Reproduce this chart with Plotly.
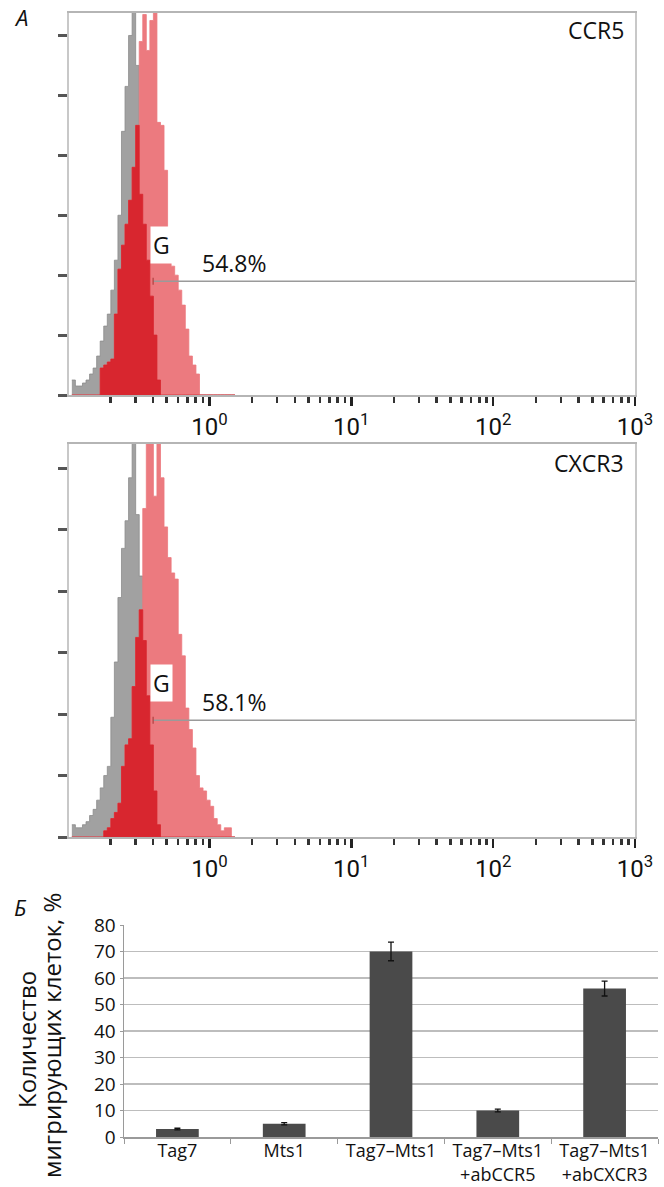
import numpy as np
import plotly.graph_objects as go

# ---------------- data ----------------
# histogram bins (log10 of fluorescence), first bin left edge and width
BIN_START = -0.97
BIN_WIDTH = 0.025

# Panel A, CCR5: isotype control (grey) and stained cells (red)
CCR5_CONTROL = [5, 3, 3, 4, 5, 7, 9, 13, 18, 23, 27, 35, 45, 60, 88, 103, 120, 130, 110, 67,
                57, 45, 33, 20, 5, 0, 0, 0, 0, 0, 0, 0, 0, 0, 0, 0, 0, 0, 0, 0,
                0, 0, 0, 0, 0, 0]
CCR5_STAINED = [0, 0, 0, 0, 0, 0, 0, 0, 9, 10, 11, 12, 27, 42, 50, 57, 65, 76, 90, 118,
                127, 115, 125, 130, 91, 90, 75, 53, 43, 40, 35, 30, 22, 13, 10, 7, 0, 0, 0, 0,
                0, 0, 0, 0, 0, 0]
CCR5_GATE = "54.8%"

# Panel A, CXCR3
CXCR3_CONTROL = [4, 3, 3, 4, 5, 7, 9, 12, 16, 20, 23, 39, 57, 78, 94, 103, 117, 130, 105, 85,
                 64, 46, 30, 15, 4, 0, 0, 0, 0, 0, 0, 0, 0, 0, 0, 0, 0, 0, 0, 0,
                 0, 0, 0, 0, 0, 0]
CXCR3_STAINED = [0, 0, 0, 0, 0, 0, 0, 0, 0, 2, 3, 6, 8, 11, 23, 30, 32, 49, 65, 74,
                 107, 130, 130, 111, 130, 117, 101, 91, 86, 84, 66, 59, 42, 35, 29, 20, 16, 15, 12, 10,
                 6, 4, 2, 3, 3, 0]
CXCR3_GATE = "58.1%"

X_TICK_VALUES = [1, 10, 100, 1000]
X_TICK_TEXT = ["10<sup>0</sup>", "10<sup>1</sup>", "10<sup>2</sup>", "10<sup>3</sup>"]

# Panel B: migrating cells, %
CATEGORIES = ["Tag7", "Mts1", "Tag7–Mts1", "Tag7–Mts1<br>+abCCR5", "Tag7–Mts1<br>+abCXCR3"]
MIGRATION = [3, 5, 70, 10, 56]
MIGRATION_ERR = [0.3, 0.4, 3.5, 0.5, 2.8]
Y_TITLE_LINES = ["Количество", "мигрирующих клеток, %"]

# ---------------- styling ----------------
FONT = "Open Sans, Lato, Arial, sans-serif"
NARROW = "Liberation Sans Narrow, Arial Narrow, Roboto, sans-serif"
GREY = "#a1a1a1"
PINK = "#ec7a7f"
DARK_RED = "#d8262f"

W, H = 664, 1187


def py(pix):
    return 1 - pix / H


def px(pix):
    return pix / W


fig = go.Figure()

edges = BIN_START + BIN_WIDTH * np.arange(len(CCR5_CONTROL) + 1)
x_edges = 10 ** edges


def add_hist(control, stained, xa, ya):
    control = np.asarray(control, dtype=float)
    stained = np.asarray(stained, dtype=float)
    overlap = np.minimum(control, stained)
    for vals, col, lc in ((control, GREY, "#8c8c8c"), (stained, PINK, PINK), (overlap, DARK_RED, DARK_RED)):
        yv = np.append(vals, vals[-1])
        fig.add_trace(go.Scatter(
            x=x_edges, y=yv, mode="lines", line=dict(shape="hv", width=0.8, color=lc),
            fill="tozeroy", fillcolor=col, xaxis=xa, yaxis=ya, showlegend=False,
            hoverinfo="skip"))


add_hist(CCR5_CONTROL, CCR5_STAINED, "x", "y")
add_hist(CXCR3_CONTROL, CXCR3_STAINED, "x2", "y2")

GATE_START = 10 ** -0.397
GATE_END = 10 ** 3.0
GATE_LEVEL = 38
for xa, ya in (("x", "y"), ("x2", "y2")):
    fig.add_trace(go.Scatter(
        x=[GATE_START, GATE_END], y=[GATE_LEVEL, GATE_LEVEL], mode="lines",
        line=dict(color="#9a9a9a", width=1.5), xaxis=xa, yaxis=ya,
        showlegend=False, hoverinfo="skip", cliponaxis=False))
    fig.add_trace(go.Scatter(
        x=[GATE_START], y=[GATE_LEVEL], mode="markers",
        marker=dict(symbol="line-ns", size=5, line=dict(color="#b04040", width=1.2)),
        xaxis=xa, yaxis=ya, showlegend=False, hoverinfo="skip"))

# bar chart
fig.add_trace(go.Bar(
    x=CATEGORIES, y=MIGRATION, xaxis="x3", yaxis="y3",
    marker=dict(color="#4a4a4a", line=dict(width=0)),
    error_y=dict(type="data", array=MIGRATION_ERR, color="#111", thickness=1.3, width=3),
    showlegend=False, hoverinfo="skip"))

minor_vals = [k * 10.0 ** p for p in range(-1, 3) for k in range(2, 10)]

hist_x = dict(
    type="log", range=[-0.99, 3.0], showline=True, linecolor="#b5b5b5", linewidth=2,
    mirror=True, ticks="outside", tickvals=X_TICK_VALUES, ticktext=X_TICK_TEXT,
    ticklen=9, tickwidth=2.5, tickcolor="#222", showgrid=False, zeroline=False,
    automargin=False,
    tickfont=dict(family=NARROW, size=24, color="#111"),
    minor=dict(tickvals=minor_vals, ticks="outside", ticklen=6, tickwidth=2.5,
               tickcolor="#333", showgrid=False),
)
hist_y = dict(
    range=[0, 127.5], showline=True, linecolor="#c8c8c8", linewidth=2, mirror=True,
    ticks="outside", tickvals=[0, 20, 40, 60, 80, 100, 120], ticklen=9, tickwidth=3,
    tickcolor="#555", showticklabels=False, showgrid=False, zeroline=False,
    automargin=False,
)

fig.update_layout(
    template="none",
    width=W, height=H, margin=dict(l=0, r=0, t=0, b=0, autoexpand=False),
    paper_bgcolor="white", plot_bgcolor="white",
    font=dict(family=FONT, color="#111"),
    bargap=0.6,
    xaxis=dict(domain=[px(69), px(635)], anchor="y", **hist_x),
    yaxis=dict(domain=[py(395), py(13)], anchor="x", **hist_y),
    xaxis2=dict(domain=[px(69), px(635)], anchor="y2", **hist_x),
    yaxis2=dict(domain=[py(837), py(444)], anchor="x2", **{**hist_y, "range": [0, 128]}),
    xaxis3=dict(domain=[px(124), px(658)], anchor="y3", showline=True, linecolor="#9a9a9a",
                linewidth=1.5, ticks="outside", tickson="boundaries", ticklen=5,
                tickcolor="#9a9a9a", showgrid=False, automargin=False,
                ticklabelstandoff=-3,
                tickfont=dict(family=FONT, size=18, color="#111")),
    yaxis3=dict(domain=[py(1137), py(925)], anchor="x3", range=[0, 80], dtick=10,
                showline=True, linecolor="#9a9a9a", linewidth=1.5, showgrid=True,
                gridcolor="#bdbdbd", gridwidth=1.5, zeroline=False, automargin=False,
                ticks="outside", ticklen=3, tickcolor="#9a9a9a",
                tickfont=dict(family=FONT, size=19, color="#111")),
)


def pann(text, x, y, size, **kw):
    d = dict(text=text, x=px(x), y=py(y), xref="paper", yref="paper",
             xanchor="center", yanchor="middle", showarrow=False,
             font=dict(size=size, family=FONT, color="#111"))
    d.update(kw)
    return d


ann = []
ann.append(pann("<i>А</i>", 21, 17, 22))
ann.append(pann("<i>Б</i>", 20, 907, 22))
ann.append(pann("CCR5", 626, 30, 23, xanchor="right"))
ann.append(pann("CXCR3", 626, 463, 23, xanchor="right"))
for xr, yr, pct in (("x", "y", CCR5_GATE), ("x2", "y2", CXCR3_GATE)):
    ann.append(dict(text="G", x=-0.335, y=50, xref=xr, yref=yr, showarrow=False,
                    xanchor="center", yanchor="middle",
                    bgcolor="white", borderpad=2, font=dict(size=23, family=FONT, color="#111")))
    ann.append(dict(text=pct, x=-0.064, y=44, xref=xr, yref=yr, xanchor="left",
                    yanchor="middle", showarrow=False,
                    font=dict(size=23, family=FONT, color="#111")))
ann.append(pann(Y_TITLE_LINES[0], 26, 1040, 24, textangle=-90))
ann.append(pann(Y_TITLE_LINES[1], 51, 1036, 24, textangle=-90))
fig.update_layout(annotations=ann)

fig.write_html("out.html", config={"displayModeBar": False, "staticPlot": True},
               post_script="document.body.style.margin='0';document.body.style.padding='0';")
